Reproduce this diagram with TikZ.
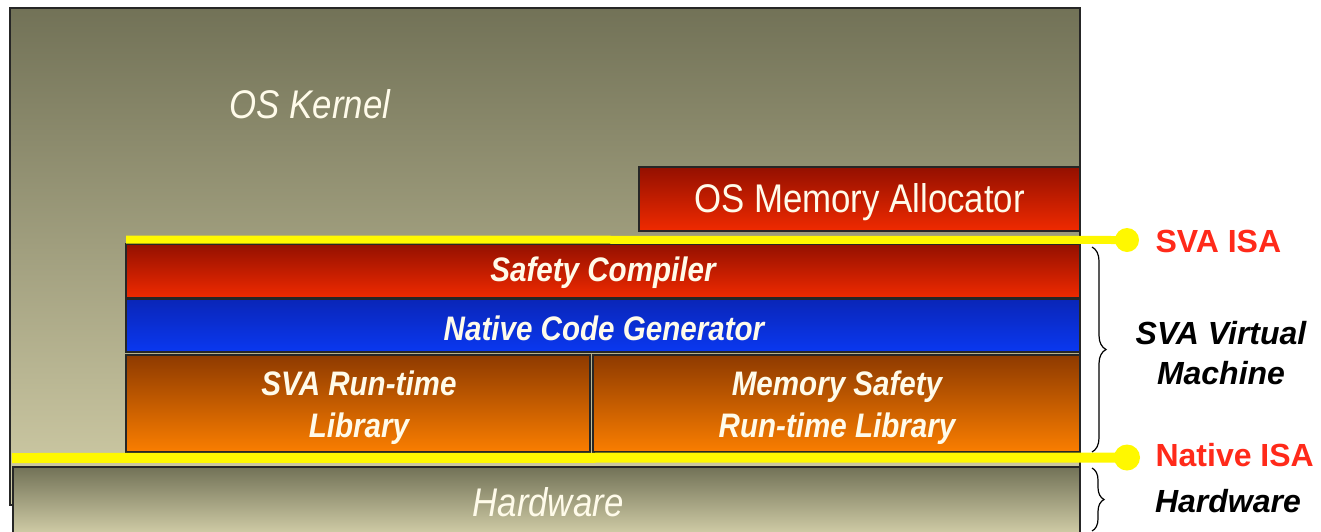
\documentclass[tikz,border=0pt]{standalone}
\usepackage{fontspec}
\setmainfont{Liberation Sans}
\newfontfamily\cond[FakeStretch=0.87]{Liberation Sans}
\usetikzlibrary{decorations.pathreplacing}
\definecolor{olivetop}{HTML}{727257}
\definecolor{olivebot}{HTML}{D2CEA8}
\definecolor{redtop}{HTML}{941000}
\definecolor{redbot}{HTML}{F02A00}
\definecolor{bluetop}{HTML}{0A26B8}
\definecolor{bluebot}{HTML}{0A38F0}
\definecolor{orgtop}{HTML}{8E3A00}
\definecolor{orgbot}{HTML}{FA7E00}
\definecolor{cream}{HTML}{FFFBEA}
\definecolor{isared}{HTML}{FF2A1A}
\definecolor{isayellow}{HTML}{FFF800}
\tikzset{
  layer/.style={draw=black!85, line width=1.3pt, inner sep=0pt},
  olive/.style={layer, top color=olivetop, bottom color=olivebot},
  redbox/.style={layer, top color=redtop, bottom color=redbot},
  bluebox/.style={layer, top color=bluetop, bottom color=bluebot},
  orgbox/.style={layer, top color=orgtop, bottom color=orgbot},
  boxfont/.style={font=\cond\bfseries\itshape\fontsize{34}{42}\selectfont, align=center, text=cream},
  plainfont/.style={font=\cond\fontsize{40}{48}\selectfont, text=cream},
  itfont/.style={font=\cond\itshape\fontsize{40}{48}\selectfont, text=cream},
  isaline/.style={draw=isayellow},
  isadot/.style={circle, fill=isayellow, inner sep=0pt, minimum size=26pt},
  bracelbl/.style={font=\bfseries\itshape\fontsize{32}{40}\selectfont, align=center, text=black},
  isalbl/.style={font=\bfseries\fontsize{32}{40}\selectfont, text=isared, anchor=west},
  bracedeco/.style={decorate, decoration={brace, amplitude=14pt}, draw=black, line width=1.2pt}
}
\begin{document}
\begin{tikzpicture}[x=1pt, y=-1pt]
\useasboundingbox (0,0) rectangle (1321,531);
\begin{scope}
\clip (0,0) rectangle (1321,531);
% OS kernel
\node[olive, minimum width=1070pt, minimum height=497pt] (kernel) at (545,256.5) {};
\node[itfont] (kerneltxt) at (310,104) {OS Kernel};
% memory allocator
\node[redbox, minimum width=441pt, minimum height=64pt] (alloc) at (859.5,199) {};
\node[plainfont] (alloctxt) at (859.5,202) {OS Memory Allocator};
% safety compiler
\node[redbox, minimum width=954pt, minimum height=54pt] (safety) at (603,271) {};
\node[boxfont] (safetytxt) at (603,273) {Safety Compiler};
% native code generator
\node[bluebox, minimum width=954pt, minimum height=53pt] (ncg) at (603,325.5) {};
\node[boxfont] (ncgtxt) at (604,328) {Native Code Generator};
% run-time libraries
\node[orgbox, minimum width=464pt, minimum height=97pt] (svart) at (358,403.5) {};
\node[boxfont] (svarttxt) at (359,408) {SVA Run-time\\Library};
\node[orgbox, minimum width=487pt, minimum height=97pt] (msrt) at (836.5,403.5) {};
\node[boxfont] (msrttxt) at (837,408) {Memory Safety\\Run-time Library};
% hardware
\node[olive, minimum width=1067pt, minimum height=68pt] (hw) at (546.5,501) {};
\node[itfont] (hwtxt) at (548,502) {Hardware};
\end{scope}
% ISA lines
\coordinate (svastart) at (126,239.5);
\node[isadot, minimum size=24pt] (svadot) at (1127,240) {};
\draw[isaline, line width=8pt] (svastart) -- (svadot.center);
\node[isadot] (natdot) at (1127,457.5) {};
\coordinate (natstart) at (12,458);
\draw[isaline, line width=10pt] (natstart) -- (natdot.center);
\node[isalbl] (svaisa) at (1152,241) {SVA ISA};
\node[isalbl] (natisa) at (1152,455) {Native ISA};
% braces
\coordinate (b1a) at (1092,247);
\coordinate (b1b) at (1092,452);
\draw[bracedeco] (b1a) -- (b1b);
\node[bracelbl] (svavm) at (1221,353) {SVA Virtual\\Machine};
\coordinate (b2a) at (1092,468);
\coordinate (b2b) at (1092,531);
\draw[bracedeco, decoration={brace, amplitude=12pt}] (b2a) -- (b2b);
\node[bracelbl] (hwlbl) at (1228,501) {Hardware};
\end{tikzpicture}
\end{document}
